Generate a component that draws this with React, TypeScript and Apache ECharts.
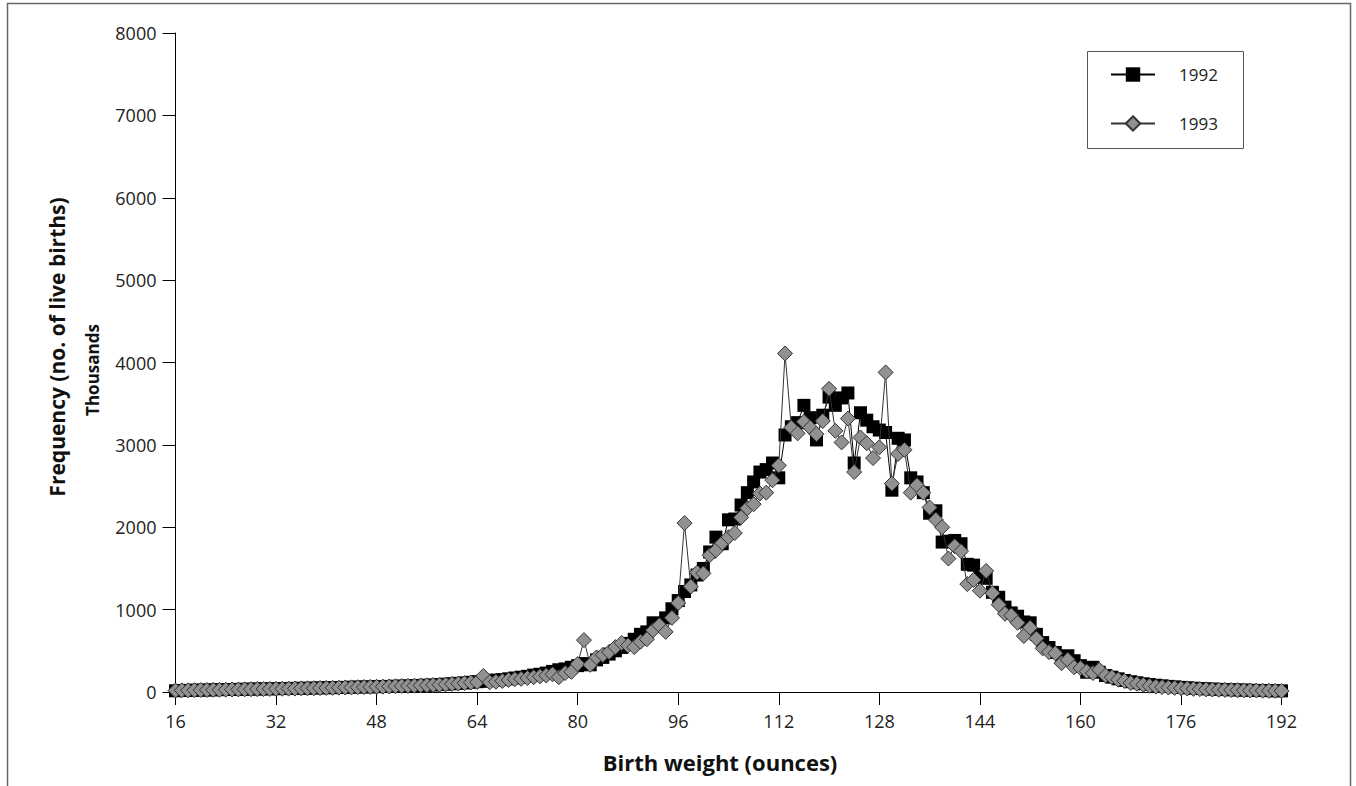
import React, { useEffect, useRef } from "react";
import * as echarts from "echarts";

// Birth weight in ounces: first point at 16 oz, one point per ounce up to 192 oz
const START_OZ = 16;

// Frequency (thousands of live births), 1992, ounces 16..192
const births1992 = [
  15, 18, 20, 22, 22, 24, 26, 28,
  30, 30, 32, 33, 35, 36, 38, 38,
  40, 42, 42, 44, 45, 46, 48, 50,
  52, 52, 55, 56, 58, 60, 62, 62,
  65, 66, 68, 70, 72, 75, 78, 80,
  82, 85, 90, 95, 100, 105, 110, 118,
  125, 130, 138, 145, 150, 160, 170, 180,
  190, 205, 215, 230, 250, 270, 280, 300,
  320, 345, 330, 390, 420, 460, 500, 540,
  590, 640, 700, 730, 840, 830, 900, 1010,
  1110, 1220, 1300, 1420, 1500, 1700, 1880, 1800,
  2090, 2100, 2270, 2420, 2550, 2670, 2700, 2780,
  2600, 3120, 3220, 3270, 3480, 3330, 3060, 3360,
  3580, 3480, 3570, 3630, 2780, 3390, 3300, 3220,
  3180, 3150, 2450, 3080, 3060, 2600, 2550, 2420,
  2170, 2200, 1820, 1830, 1840, 1800, 1550, 1540,
  1390, 1380, 1210, 1150, 1030, 960, 920, 850,
  840, 700, 600, 540, 480, 420, 440, 380,
  320, 240, 300, 240, 200, 180, 160, 140,
  125, 112, 100, 90, 82, 75, 68, 62,
  56, 50, 46, 42, 38, 35, 32, 29,
  27, 25, 23, 21, 19, 18, 16, 15,
  14,
];

// Frequency (thousands of live births), 1993, ounces 16..192
const births1993 = [
  18, 20, 20, 22, 24, 24, 26, 27,
  28, 30, 31, 32, 34, 35, 36, 37,
  38, 40, 41, 42, 44, 45, 46, 48,
  50, 51, 53, 55, 56, 58, 60, 62,
  64, 65, 67, 70, 72, 74, 77, 80,
  82, 85, 88, 92, 98, 102, 108, 115,
  120, 195, 118, 125, 135, 145, 155, 160,
  170, 180, 190, 200, 215, 180, 230, 245,
  340, 630, 330, 420, 450, 485, 545, 595,
  565, 545, 610, 640, 750, 810, 730, 900,
  1080, 2050, 1280, 1450, 1440, 1660, 1720, 1810,
  1880, 1930, 2120, 2230, 2280, 2410, 2420, 2570,
  2750, 4110, 3210, 3140, 3280, 3210, 3130, 3290,
  3680, 3170, 3030, 3320, 2670, 3090, 3020, 2840,
  2970, 3880, 2530, 2890, 2940, 2420, 2510, 2420,
  2240, 2090, 2000, 1620, 1770, 1710, 1310, 1360,
  1230, 1470, 1200, 1060, 950, 930, 840, 680,
  780, 650, 530, 485, 470, 350, 390, 300,
  290, 250, 230, 270, 200, 180, 150, 135,
  110, 100, 88, 75, 66, 60, 54, 50,
  46, 42, 38, 35, 32, 30, 28, 26,
  24, 22, 20, 19, 18, 16, 15, 14,
  13,
];

const seriesNames = ["1992", "1993"];
const X_MIN = 16;
const X_MAX = 192;
const X_STEP = 16;
const Y_MIN = 0;
const Y_MAX = 8000;
const Y_STEP = 1000;

const xTitle = "Birth weight (ounces)";
const yTitle = "Frequency (no. of live births)";
const yUnit = "Thousands";

const FONT = "'Open Sans', Lato, 'DejaVu Sans', sans-serif";

export default function App() {
  const ref = useRef<HTMLDivElement>(null);

  useEffect(() => {
    if (!ref.current) return;
    const chart = echarts.init(ref.current, null, { renderer: "svg" });
    const toPairs = (arr: number[]) => arr.map((v, i) => [START_OZ + i, v]);

    chart.setOption({
      animation: false,
      backgroundColor: "#ffffff",
      textStyle: { fontFamily: FONT },
      grid: { left: 175.5, right: 74.5, top: 33, bottom: 94 },
      xAxis: {
        type: "value",
        min: X_MIN,
        max: X_MAX,
        interval: X_STEP,
        axisLine: { show: true, lineStyle: { color: "#000", width: 1 } },
        axisTick: { show: true, length: 13, lineStyle: { color: "#000", width: 1 } },
        axisLabel: {
          fontFamily: FONT,
          fontSize: 18,
          color: "#222",
          margin: 20,
          formatter: (v: number) => String(v),
        },
        splitLine: { show: false },
      },
      yAxis: {
        type: "value",
        min: Y_MIN,
        max: Y_MAX,
        interval: Y_STEP,
        axisLine: { show: true, lineStyle: { color: "#000", width: 1 } },
        axisTick: { show: true, length: 13, lineStyle: { color: "#000", width: 1 } },
        axisLabel: {
          fontFamily: FONT,
          fontSize: 18,
          color: "#222",
          margin: 19,
          formatter: (v: number) => String(v),
        },
        splitLine: { show: false },
      },
      legend: {
        orient: "vertical",
        left: 1110,
        top: 66,
        padding: 0,
        itemWidth: 44,
        itemHeight: 18,
        itemGap: 32,
        data: seriesNames,
        textStyle: { fontFamily: FONT, fontSize: 17, color: "#222", padding: [0, 0, 0, 19] },
      },
      series: [
        {
          name: seriesNames[0],
          type: "line",
          data: toPairs(births1992),
          symbol: "rect",
          symbolSize: 13,
          showAllSymbol: true,
          itemStyle: { color: "#000" },
          lineStyle: { color: "#000", width: 1 },
          z: 2,
        },
        {
          name: seriesNames[1],
          type: "line",
          data: toPairs(births1993),
          symbol: "diamond",
          symbolSize: 15,
          showAllSymbol: true,
          itemStyle: { color: "#919191", borderColor: "#333", borderWidth: 1 },
          lineStyle: { color: "#333", width: 1 },
          z: 3,
        },
      ],
      graphic: [
        {
          type: "rect",
          shape: { x: 7.5, y: 3.5, width: 1343, height: 900 },
          style: { fill: "none", stroke: "#666", lineWidth: 1.5 },
          silent: true,
        },
        {
          type: "rect",
          shape: { x: 1087.5, y: 51.5, width: 156, height: 97 },
          style: { fill: "none", stroke: "#555", lineWidth: 1 },
          silent: true,
        },
        {
          type: "text",
          x: 720,
          y: 762,
          style: {
            text: xTitle,
            fontFamily: FONT,
            fontSize: 22,
            fontWeight: "bold",
            fill: "#111",
            textAlign: "center",
            textVerticalAlign: "middle",
          },
        },
        {
          type: "text",
          x: 57,
          y: 347,
          rotation: Math.PI / 2,
          style: {
            text: yTitle,
            fontFamily: FONT,
            fontSize: 21,
            fontWeight: "bold",
            fill: "#111",
            textAlign: "center",
            textVerticalAlign: "middle",
          },
        },
        {
          type: "text",
          x: 92,
          y: 370,
          rotation: Math.PI / 2,
          style: {
            text: yUnit,
            fontFamily: FONT,
            fontSize: 17,
            fontWeight: "bold",
            fill: "#111",
            textAlign: "center",
            textVerticalAlign: "middle",
          },
        },
      ],
    });

    return () => chart.dispose();
  }, []);

  return (
    <div
      ref={ref}
      style={{ position: "fixed", left: 0, top: 0, width: 1356, height: 786, background: "#fff" }}
    />
  );
}
